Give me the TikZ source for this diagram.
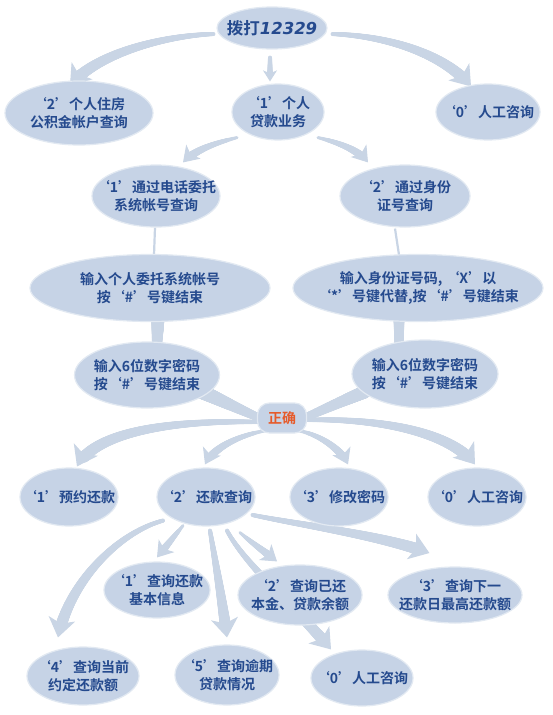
\documentclass[tikz,border=0pt]{standalone}
\usepackage{fontspec}
\setmainfont{Noto Sans CJK SC Bold}
\newfontfamily\lat{DejaVu Sans}
\usetikzlibrary{shapes.geometric,arrows.meta,decorations.markings,calc}
\definecolor{ec}{HTML}{C6D3E6}
\definecolor{ac}{HTML}{C9D5E5}
\definecolor{tc}{HTML}{254A8E}
\definecolor{oc}{HTML}{E65A2A}
\newcommand\Q[1]{{\addfontfeatures{RawFeature=+fwid}‘}#1{\addfontfeatures{RawFeature=+fwid}’}}
\newcommand\tapermark[2]{%
  \pgfmathsetmacro\myr{#1+(#2-#1)*\pgfkeysvalueof{/pgf/decoration/mark info/distance from start}/\pgfdecoratedpathlength}%
  \fill[ac] (0,0) circle[radius=\myr pt];}
\pgfdeclarelayer{back}\pgfdeclarelayer{bg}\pgfsetlayers{back,bg,main}
\tikzset{
  ell/.style 2 args={ellipse, fill=ec, draw=ec!50!white, line width=1.2pt,
    inner xsep=-20pt, inner ysep=-8pt, minimum width=#1pt, minimum height=#2pt,
    align=center, text=tc, font=\fontsize{14}{18.5}\selectfont},
  swoosh/.style n args={4}{draw=ac, line width=1pt, -{#4},
    postaction={decorate, decoration={markings,
      mark=between positions 0 and #3 step 0.5pt with {\tapermark{#1}{#2}}}}},
  band/.style 2 args={decoration={markings,
      mark=between positions 0 and 1 step 0.5pt with {\tapermark{#1}{#2}}}, decorate},
  bigarrow/.style={swoosh={2}{6}{-13pt}{Stealth[width=27pt,length=19pt,inset=5pt]}},
  midarrow/.style={swoosh={1.5}{4.5}{-10pt}{Stealth[width=20pt,length=15pt,inset=4pt]}},
  smallarrow/.style={swoosh={2}{3}{-7pt}{Stealth[width=14pt,length=11pt,inset=3pt]}},
  thinline/.style={draw=ac, line width=2.2pt},
}
\begin{document}
\begin{tikzpicture}[x=1pt,y=-1pt]
\begin{pgfonlayer}{back}
\fill[white] (0,0) rectangle (553,715);
\end{pgfonlayer}
\useasboundingbox (0,0) rectangle (553,715);

\node[ell={110}{42}, font=\fontsize{16.5}{20}\selectfont] (top) at (272,28) {拨打{\lat\bfseries\itshape 12329}};
\node[ell={148}{64}] (p2) at (79,113) {\Q{2}个人住房\\公积金帐户查询};
\node[ell={92}{56}] (p1) at (278,112) {\Q{1}个人\\贷款业务};
\node[ell={104}{56}] (p0) at (488,112) {\Q{0}人工咨询};
\node[ell={128}{62}] (a1) at (156,196) {\Q{1}通过电话委托\\系统帐号查询};
\node[ell={130}{62}] (a2) at (405,196) {\Q{2}通过身份\\证号查询};
\node[ell={240}{67}] (b1) at (150,288) {输入个人委托系统帐号\\按\Q{\#}号键结束};
\node[ell={250}{67}] (b2) at (418,288) {输入身份证号码, \Q{X}以\\\Q{*}号键代替,按\Q{\#}号键结束};
\node[ell={145}{66}] (c1) at (147,375) {输入6位数字密码\\按\Q{\#}号键结束};
\node[ell={146}{68}] (c2) at (425,374) {输入6位数字密码\\按\Q{\#}号键结束};
\node[rectangle, rounded corners=12pt, fill=ec, draw=ec!50!white, line width=1.2pt,
  minimum width=49pt, minimum height=30pt, inner sep=0pt, text=oc,
  font=\fontsize{14}{18.5}\selectfont] (ok) at (282,418) {正确};
\node[ell={98}{58}] (d1) at (69,497) {\Q{1}预约还款};
\node[ell={98}{58}] (d2) at (206,497) {\Q{2}还款查询};
\node[ell={98}{58}] (d3) at (339,497) {\Q{3}修改密码};
\node[ell={98}{58}] (d0) at (477,497) {\Q{0}人工咨询};
\node[ell={106}{56}] (e1) at (157,590) {\Q{1}查询还款\\基本信息};
\node[ell={124}{60}] (e2) at (300,595) {\Q{2}查询已还\\本金、贷款余额};
\node[ell={134}{56}] (e3) at (455,595) {\Q{3}查询下一\\还款日最高还款额};
\node[ell={112}{58}] (f4) at (83,676) {\Q{4}查询当前\\约定还款额};
\node[ell={104}{60}] (f5) at (227,675) {\Q{5}查询逾期\\贷款情况};
\node[ell={102}{56}] (f0) at (362,678) {\Q{0}人工咨询};

\begin{pgfonlayer}{bg}
% level 1
\path[bigarrow] ($(top.west)+(-3,6)$) .. controls (160,36) and (95,55) .. ($(p2.north)+(-9,5)$);
\path[bigarrow] ($(top.east)+(5,6)$) .. controls (390,36) and (445,55) .. ($(p0.north)+(-17,3)$);
\path[smallarrow] ($(top.south)+(-2,8)$) -- ($(p1.north)+(-8,-2)$);
% level 2
\path[midarrow] ($(p1.south)+(-41,-3)$) .. controls (215,143) and (195,150) .. ($(a1.north)+(27,-2)$);
\path[midarrow] ($(p1.south)+(40,-3)$) .. controls (340,143) and (358,150) .. ($(a2.north)+(-37,-2)$);
% thin lines
\draw[thinline] ($(a1.south)+(-1,0)$) -- ($(b1.north)+(4,1)$);
\draw[thinline] ($(a2.south)+(-10,1)$) -- ($(b2.north)+(-19,1)$);
% bands
\path[band={6.5}{5}] ($(b1.south)+(8,-4)$) -- ($(c1.north)+(10,4)$);
\path[band={5.5}{4.5}] ($(b2.south)+(-19,-4)$) -- ($(c2.north)+(-26,4)$);
\path[band={7.5}{3.5}] ($(c1.east)+(-22,15)$) .. controls (225,402) and (245,412) .. ($(ok.west)+(10,3)$);
\path[band={6.5}{3.5}] ($(c2.west)+(13,18)$) .. controls (340,402) and (318,412) .. ($(ok.east)+(-10,3)$);
% from ok
\path[bigarrow] ($(ok.west)+(2,4)$) .. controls (170,420) and (95,432) .. ($(d1.north)+(8,-1)$);
\path[midarrow] ($(ok.south)+(-16,-3)$) .. controls (245,434) and (215,445) .. ($(d2.north)+(-1,-3)$);
\path[midarrow] ($(ok.south)+(16,-3)$) .. controls (318,434) and (340,448) .. ($(d3.north)+(9,-3)$);
\path[bigarrow] ($(ok.east)+(-2,2)$) .. controls (380,418) and (450,432) .. ($(d0.north)+(-2,-3)$);
% from d2
\path[bigarrow] ($(d2.south)+(-43,-6)$) .. controls (120,532) and (70,580) .. ($(f4.north)+(-25,-9)$);
\path[midarrow] ($(d2.south)+(-23,-1)$) -- ($(e1.north)+(0,-4)$);
\path[bigarrow] ($(d2.south)+(4,4)$) .. controls (216,565) and (222,600) .. ($(f5.north)+(0,-7)$);
\path[midarrow] ($(d2.south)+(34,6)$) .. controls (252,543) and (265,552) .. ($(e2.north)+(-23,-3)$);
\path[bigarrow] ($(d2.south)+(21,4)$) .. controls (245,565) and (300,612) .. ($(f0.north)+(-31,0)$);
\path[bigarrow] ($(d2.east)+(-3,18)$) .. controls (300,525) and (380,535) .. ($(e3.west)+(42,-42)$);
\end{pgfonlayer}
\end{tikzpicture}
\end{document}
